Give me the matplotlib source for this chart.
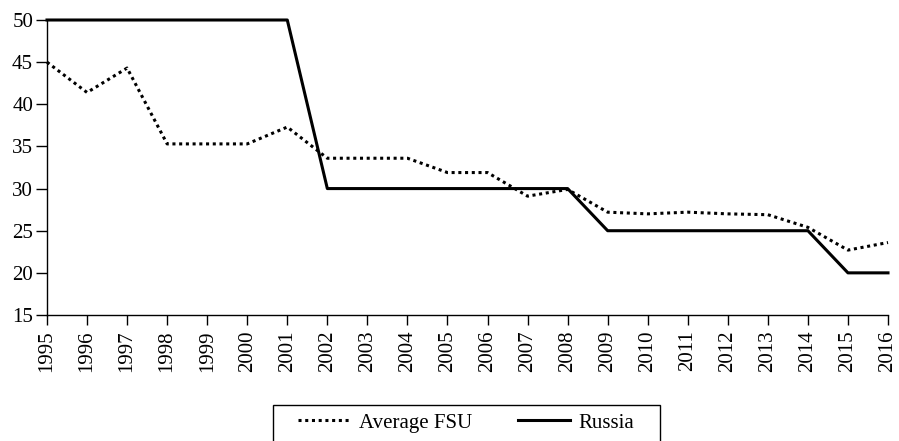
import matplotlib
matplotlib.use("Agg")
import matplotlib.pyplot as plt
from matplotlib.patches import Rectangle

years = list(range(1995, 2017))
year_labels = [str(y) for y in years]
avg_fsu = [45.0, 41.4, 44.3, 35.3, 35.3, 35.3, 37.3, 33.6, 33.6, 33.6, 31.9, 31.9,
           29.1, 29.9, 27.2, 27.0, 27.2, 27.0, 26.9, 25.4, 22.7, 23.6]
russia = [50, 50, 50, 50, 50, 50, 50, 30, 30, 30, 30, 30,
          30, 30, 25, 25, 25, 25, 25, 25, 20, 20]

plt.rcParams['font.family'] = ['Liberation Serif', 'DejaVu Serif']
fs = 15

fig = plt.figure(figsize=(8.99, 4.41), dpi=100)
W, H = 899, 441
ax = fig.add_axes([47 / W, 1 - 315 / H, (888 - 47) / W, (315 - 20) / H])

ax.plot(years, avg_fsu, color='black', lw=2.2, linestyle=(0, (1, 1.2)),
        label='Average FSU', clip_on=False)
ax.plot(years, russia, color='black', lw=2.2, linestyle='-', label='Russia',
        clip_on=False)

ax.set_xlim(1995, 2016)
ax.set_ylim(15, 50)
ax.set_yticks(range(15, 51, 5))
ax.set_xticks(years)
ax.set_xticklabels(year_labels, rotation=90, fontsize=fs)
ax.tick_params(axis='y', labelsize=fs, direction='out', length=8, width=1, pad=2)
ax.tick_params(axis='x', direction='out', length=7, width=1, pad=4)
for s in ['top', 'right']:
    ax.spines[s].set_visible(False)
for s in ['left', 'bottom']:
    ax.spines[s].set_linewidth(1)

# legend frame (cut off at bottom edge as in reference)
rect = Rectangle((273 / W, -0.05), (660 - 273) / W, (1 - 405 / H) + 0.05,
                 transform=fig.transFigure, fill=False, edgecolor='black', lw=1,
                 clip_on=False)
fig.patches.append(rect)
handles, labels = ax.get_legend_handles_labels()
fig.legend(handles, labels, loc='center', bbox_to_anchor=(466 / W, 1 - 423 / H),
           ncol=2, frameon=False, fontsize=fs, handlelength=2.5,
           handletextpad=0.4, columnspacing=2.2)

fig.savefig('out.png', dpi=100)
